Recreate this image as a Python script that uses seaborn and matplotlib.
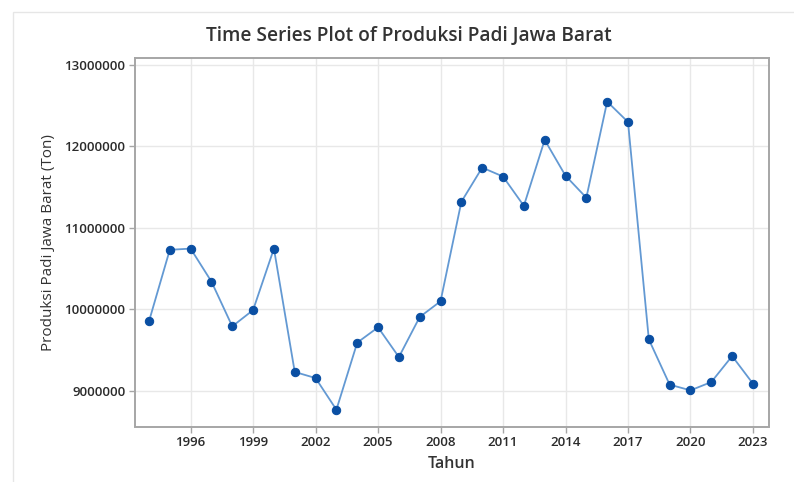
import matplotlib
matplotlib.use("Agg")
import matplotlib.pyplot as plt
import seaborn as sns
import pandas as pd
from matplotlib.patches import Rectangle

years = list(range(1994, 2024))
produksi = [9850000, 10730000, 10745000, 10340000, 9790000, 9990000, 10745000,
            9230000, 9155000, 8766000, 9590000, 9778000, 9413000, 9905000,
            10098000, 11320000, 11740000, 11630000, 11270000, 12080000,
            11640000, 11370000, 12550000, 12300000, 9630000, 9074000,
            9004000, 9106000, 9425000, 9086000]
x_ticks = [1996, 1999, 2002, 2005, 2008, 2011, 2014, 2017, 2020, 2023]
y_ticks = [9000000, 10000000, 11000000, 12000000, 13000000]

df = pd.DataFrame({"Tahun": years, "Produksi": produksi})

sns.set_theme(style="white")
plt.rcParams['font.family'] = ['Open Sans', 'DejaVu Sans']

fig = plt.figure(figsize=(7.94, 4.82), dpi=100)
fig.patches.append(Rectangle((13/794, -0.1), 1.2, 1 - 12/482 + 0.1, transform=fig.transFigure,
                             fill=False, edgecolor='#e6e6e6', linewidth=1.0))
ax = fig.add_axes([135/794, 1 - 426.5/482, (769 - 135)/794, (426.5 - 58)/482])

sns.lineplot(data=df, x="Tahun", y="Produksi", ax=ax, color='#6399d3', linewidth=1.3,
             marker='o', markersize=6, markerfacecolor='#0a4fa3', markeredgecolor='#0a4fa3',
             zorder=3)

ax.set_xlim(1993.33, 2023.77)
ax.set_ylim(8560000, 13086000)
ax.set_xticks(x_ticks)
ax.set_xticklabels([str(t) for t in x_ticks])
ax.set_yticks(y_ticks)
ax.set_yticklabels([str(t) for t in y_ticks])
ax.grid(True, color='#e8e8e8', linewidth=1.0)
ax.set_axisbelow(True)
for s in ax.spines.values():
    s.set_color('#a6a6a6')
    s.set_linewidth(1.4)
ax.tick_params(axis='both', which='major', length=4, width=1, color='#a6a6a6',
               labelsize=9.5, labelcolor='#2b2b2b', pad=3, direction='out',
               bottom=True, left=True)
for lab in ax.get_xticklabels() + ax.get_yticklabels():
    lab.set_fontweight('semibold')

ax.set_xlabel("Tahun", fontsize=11.5, fontweight='semibold', color='#333333', labelpad=5)
ax.set_ylabel("Produksi Padi Jawa Barat (Ton)", fontsize=11, color='#333333', labelpad=6)
fig.text(0.515, 1 - 36/482, "Time Series Plot of Produksi Padi Jawa Barat", ha='center', va='center',
         fontsize=13.8, fontweight='semibold', color='#333333')

fig.savefig("out.png", dpi=100)
